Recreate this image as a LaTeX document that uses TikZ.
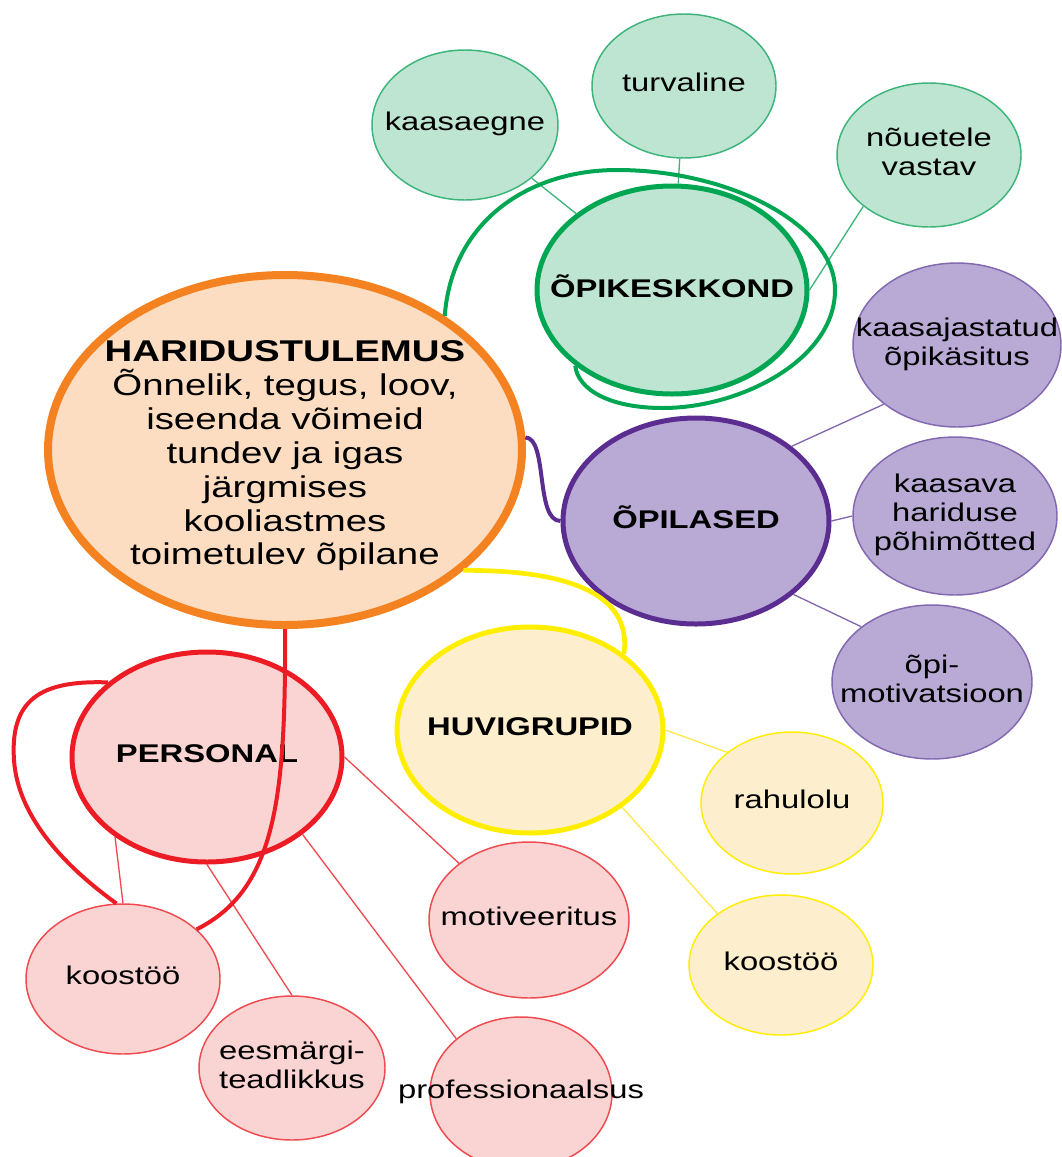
\documentclass[tikz,border=0pt]{standalone}
\usepackage{fontspec}
\setmainfont{Liberation Sans}[FakeStretch=1.28]
\usetikzlibrary{shapes.geometric}
\definecolor{envline}{HTML}{00A651}
\definecolor{envfill}{HTML}{BDE5D2}
\definecolor{envtwig}{HTML}{3DB57A}
\definecolor{pupline}{HTML}{5C2D91}
\definecolor{pupfill}{HTML}{B8A9D5}
\definecolor{puptwig}{HTML}{8268B0}
\definecolor{intline}{HTML}{FFEE00}
\definecolor{intfill}{HTML}{FDEFCD}
\definecolor{inttwig}{HTML}{FFE94A}
\definecolor{staffline}{HTML}{ED1C24}
\definecolor{stafffill}{HTML}{F9D4D2}
\definecolor{stafftwig}{HTML}{EE4A50}
\definecolor{goalline}{HTML}{F58220}
\definecolor{goalfill}{HTML}{FCDDC2}
\newcommand{\bubtxt}[1]{\makebox[0pt]{\begin{tabular}{@{}c@{}}#1\end{tabular}}}
\tikzset{
    bubble/.style = {ellipse, inner sep=0pt, text=black, font=\fontsize{19.2}{21.75}\selectfont},
    big-bubble/.style = {bubble, line width=3.75pt, font=\fontsize{19.2}{21.75}\selectfont\bfseries},
    small-bubble/.style = {bubble, line width=1.1pt},
    dims/.style 2 args = {minimum width=#1*0.75pt, minimum height=#2*0.75pt},
    env-big/.style = {big-bubble, draw=envline, fill=envfill},
    env-small/.style = {small-bubble, draw=envtwig, fill=envfill},
    pup-big/.style = {big-bubble, draw=pupline, fill=pupfill},
    pup-small/.style = {small-bubble, draw=puptwig, fill=pupfill},
    int-big/.style = {big-bubble, draw=intline, fill=intfill},
    int-small/.style = {small-bubble, draw=intline, fill=intfill},
    staff-big/.style = {big-bubble, draw=staffline, fill=stafffill},
    staff-small/.style = {small-bubble, draw=stafftwig, fill=stafffill},
    goal-bubble/.style = {bubble, line width=6pt, draw=goalline, fill=goalfill, font=\fontsize{22.5}{25.4}\selectfont},
    twig/.style = {line width=1pt},
    link/.style = {line width=3pt},
}

\begin{document}
\begin{tikzpicture}[x=0.75pt, y=-0.75pt]
\useasboundingbox (0,0) rectangle (1062,1157);

\node[goal-bubble, dims={474}{350}] (goal) at (285,450) {\raisebox{-10.1pt}[0pt][0pt]{\bubtxt{\textbf{HARIDUSTULEMUS}\\\smash{Õnnelik, tegus, loov,}\\iseenda võimeid\\tundev ja igas\\järgmises\\kooliastmes\\toimetulev õpilane}}};

\node[env-big, dims={270}{208}] (env) at (672,290) {\bubtxt{ÕPIKESKKOND}};
\node[env-small, dims={186}{150}] (kaasaegne) at (465,125) {\bubtxt{kaasaegne}};
\node[env-small, dims={184}{144}] (turvaline) at (684,86) {\bubtxt{turvaline}};
\node[env-small, dims={184}{144}] (nouetele) at (929,155) {\bubtxt{nõuetele\\vastav}};

\node[pup-big, dims={266}{206}] (pupils) at (696,521) {\bubtxt{ÕPILASED}};
\node[pup-small, dims={208}{164}] (kaasaj) at (957,345) {\bubtxt{kaasajastatud\\õpikäsitus}};
\node[pup-small, dims={204}{158}] (kaasava) at (955,516) {\bubtxt{kaasava\\hariduse\\põhimõtted}};
\node[pup-small, dims={200}{154}] (opimotiv) at (932,682) {\bubtxt{õpi-\\motivatsioon}};

\node[int-big, dims={266}{206}] (interest) at (530,730) {\bubtxt{HUVIGRUPID}};
\node[int-small, dims={182}{142}] (rahulolu) at (792,803) {\bubtxt{rahulolu}};
\node[int-small, dims={184}{140}] (intcoop) at (781,965) {\bubtxt{koostöö}};

\node[staff-big, dims={270}{210}] (staff) at (207,757) {\bubtxt{PERSONAL}};
\node[staff-small, dims={194}{150}] (staffcoop) at (123,979) {\bubtxt{koostöö}};
\node[staff-small, dims={186}{144}] (eesmargi) at (292,1068) {\bubtxt{eesmärgi-\\teadlikkus}};
\node[staff-small, dims={200}{156}] (motiveeritus) at (529,920) {\bubtxt{motiveeritus}};
\node[staff-small, dims={182}{152}] (prof) at (521,1093) {\bubtxt{professionaalsus}};

\draw[twig, envtwig] (kaasaegne) -- (env);
\draw[twig, envtwig] (turvaline) -- (env);
\draw[twig, envtwig] (nouetele.218) -- (env.east);
\draw[twig, puptwig] (pupils.38) -- (kaasaj.219);
\draw[twig, puptwig] (pupils.east) -- (kaasava.west);
\draw[twig, puptwig] (pupils.-37) -- (opimotiv.142);
\draw[twig, inttwig] (interest.east) -- (rahulolu.142);
\draw[twig, inttwig] (interest.-40) -- (intcoop.141);
\draw[twig, stafftwig] (staff.221) -- (staffcoop.north);
\draw[twig, stafftwig] (staff.south) -- (eesmargi.north);
\draw[twig, stafftwig] (staff.-39) -- (prof.140);
\draw[twig, stafftwig] (staff.east) -- (motiveeritus.141);

\draw[link, envline] (goal.40) .. controls (452,220) and (530,170) .. (617,170)
    .. controls (730,170) and (835,225) .. (835,290)
    .. controls (835,360) and (740,408) .. (663,408)
    .. controls (610,408) and (578,390) .. (env.218);
\draw[link, pupline] (goal.3) .. controls (548,438) and (535,521) .. (pupils.west);
\draw[link, intline, line width=3.5pt] (goal.-34) .. controls (600,570) and (630,610) .. (interest.39);
\draw[link, staffline] (goal.south) .. controls (286,800) and (275,890) .. (staffcoop.34);
\draw[link, staffline] (staff.143) .. controls (40,680) and (10,700) .. (14,760)
    .. controls (18,820) and (70,870) .. (staffcoop.95);
\end{tikzpicture}
\end{document}
